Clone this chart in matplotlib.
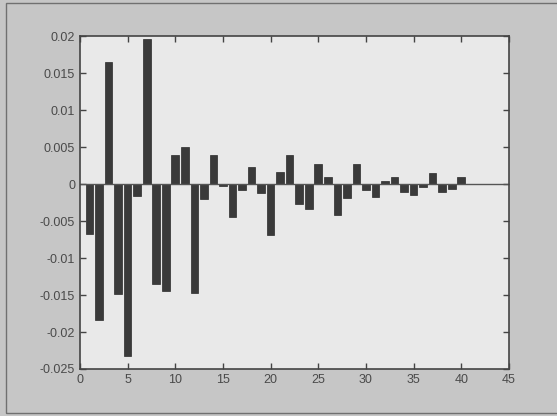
import numpy as np
import matplotlib.pyplot as plt
from matplotlib.patches import Rectangle

# lags 1..40 and coefficient values
lags = np.arange(1, 41)
values = [-0.0068, -0.0184, 0.0166, -0.0149, -0.0233, -0.0016, 0.0196, -0.0135,
          -0.0144, 0.0039, 0.0051, -0.0147, -0.0020, 0.0040, -0.0003, -0.0045,
          -0.0008, 0.0023, -0.0012, -0.0069, 0.0017, 0.0039, -0.0027, -0.0033,
          0.0028, 0.0010, -0.0042, -0.0019, 0.0028, -0.0008, -0.0017, 0.0005,
          0.0010, -0.0010, -0.0014, -0.0004, 0.0015, -0.0010, -0.0006, 0.0010]

xticks = np.arange(0, 46, 5)
yticks = np.arange(-0.025, 0.0201, 0.005)
ytick_labels = ['-0.025', '-0.02', '-0.015', '-0.01', '-0.005', '0',
                '0.005', '0.01', '0.015', '0.02']

plt.rcParams['font.family'] = ['Liberation Sans', 'DejaVu Sans']

fig = plt.figure(figsize=(5.57, 4.16), dpi=100, facecolor='#c6c6c6')
ax = fig.add_axes([0.1436, 0.113, 0.770, 0.7995])
ax.set_facecolor('#e9e9e9')

ax.bar(lags, values, width=0.8, color='#3a3a3a', edgecolor='#2a2a2a', linewidth=0.5)
ax.axhline(0, color='#555555', linewidth=1.0)

ax.set_xlim(0, 45)
ax.set_ylim(-0.025, 0.02)
ax.set_xticks(xticks)
ax.set_yticks(yticks)
ax.set_yticklabels(ytick_labels)

ax.tick_params(direction='in', top=True, right=True, length=4, width=1,
               colors='#444444', labelsize=9, labelcolor='#4a4a4a')
for s in ax.spines.values():
    s.set_color('#444444')
    s.set_linewidth(1.2)

# frame around the figure
fig.patches.append(Rectangle((6 / 557, 3 / 416), 1.0, 410 / 416, transform=fig.transFigure,
                             fill=False, edgecolor='#707070', linewidth=1.0))

fig.savefig('out.png', dpi=100, facecolor=fig.get_facecolor())
